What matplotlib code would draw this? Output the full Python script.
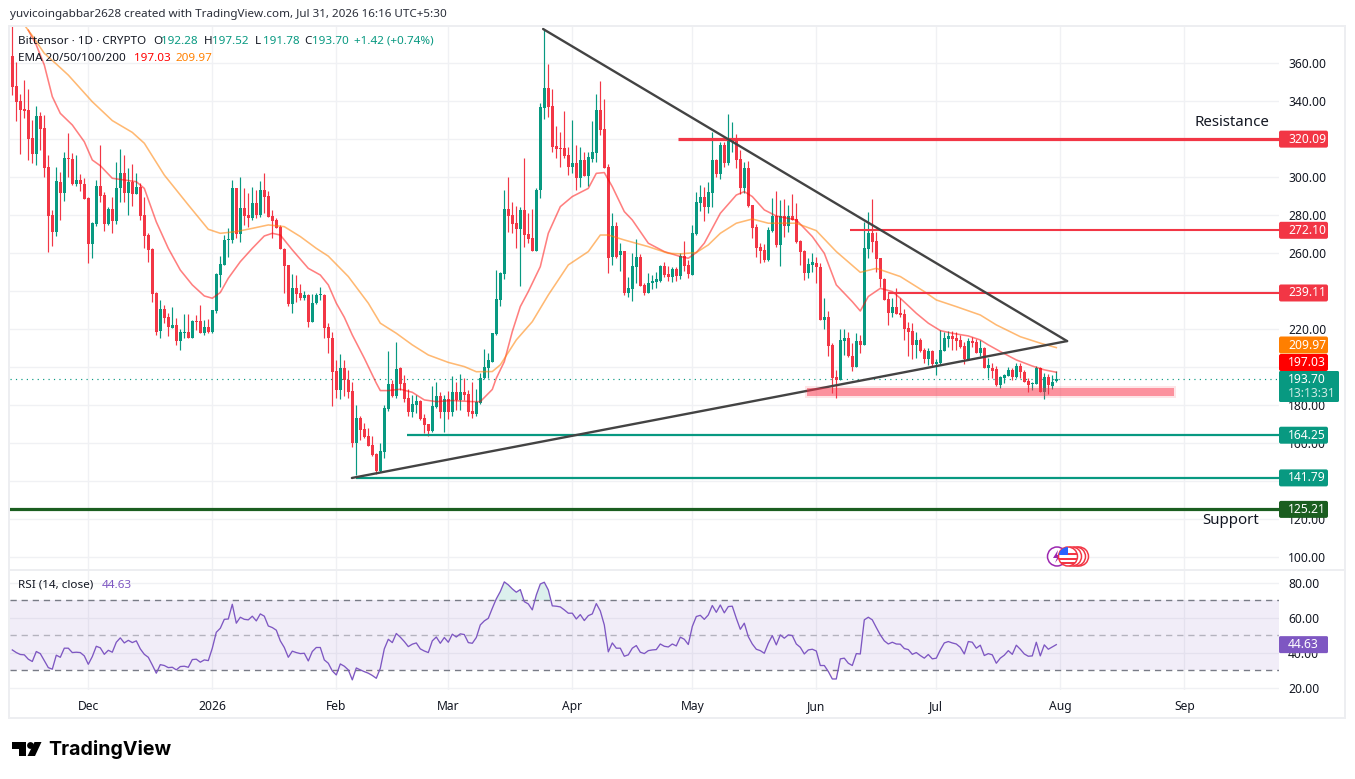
import pandas as pd
import numpy as np
import matplotlib
matplotlib.use("Agg")
import matplotlib.pyplot as plt
from matplotlib.patches import Rectangle, Circle, Polygon, FancyBboxPatch

plt.rcParams['font.family'] = ['Noto Sans', 'DejaVu Sans']

W, H = 1355, 779
RED = '#F23645'
GREEN = '#089981'
PURPLE = '#7E57C2'
GRID = '#F0F1F4'
TXT = '#131722'

start_date = pd.Timestamp('2025-11-12')

# candles, one row = 10 days
open_ = [
    363.1, 347.4, 339.5, 335.3, 334.8, 319.9, 311.7, 331.6, 325.1, 304.7,
    279.6, 270.9, 297.1, 291.4, 309.5, 309.2, 295.9, 298, 295.9, 288.7,
    264.4, 274.9, 294.9, 290.1, 274.9, 282.6, 276.3, 293.6, 301.9, 291.4,
    297.1, 290.6, 294.5, 279.6, 269.1, 261.6, 238.8, 218.7, 230.2, 226.2,
    220.4, 221.8, 213.6, 217.8, 218.2, 215.2, 224, 224, 217.9, 220.6,
    218, 229.4, 248.1, 253.4, 266.7, 266.5, 293.8, 269.7, 283.3, 279.6,
    277.9, 286.1, 279.6, 292.7, 289.6, 279.1, 277, 273.3, 261.8, 253.4,
    232.9, 241.3, 238.5, 236.1, 237.6, 223.6, 233.3, 237.5, 237.8, 220.7,
    214.9, 197.9, 187.8, 199.1, 193, 187.2, 159.8, 173.2, 167.1, 163.3,
    158.9, 154.2, 145.4, 155.4, 177.6, 190.9, 184.3, 199, 191.3, 183.5,
    176, 179.9, 182, 172.9, 169.7, 166.2, 179, 184.6, 175.9, 182.9,
    176.2, 186.4, 182.5, 186.9, 185.7, 176.9, 175.2, 180.8, 193.9, 199.1,
    202.6, 217.2, 235, 248.7, 282.8, 279.6, 275.3, 272.3, 282.3, 269.7,
    267.4, 260.9, 292.8, 336, 346.1, 336.9, 315.9, 314.8, 314.8, 311.1,
    305, 306.8, 299.2, 308.5, 300.1, 308.9, 312, 334.8, 324.8, 304.7,
    257.4, 273.9, 258.6, 260.6, 238.5, 240.9, 252.5, 257.4, 242.9, 238.5,
    243.8, 244.6, 245, 252.9, 248.7, 247.3, 251.3, 247.6, 258.3, 253.4,
    248.1, 269.7, 286.1, 289.1, 284, 291.4, 308.5, 301.2, 316.4, 307.1,
    318.1, 319.9, 308.9, 293.6, 304.1, 284.7, 273.5, 262.7, 261.3, 256,
    271.4, 279.3, 263.9, 279.3, 274, 279.3, 277.5, 266, 260.7, 249.4,
    253.4, 254.4, 252.2, 224.5, 226.1, 211.4, 194.4, 193, 213.7, 215.1,
    205.6, 200, 213.5, 211.4, 261.8, 270.4, 266, 256.9, 246, 235.4,
    228, 231.2, 228.2, 227.7, 220.1, 218.7, 211.4, 214, 208.8, 204,
    208.4, 201.2, 201.8, 208.4, 214.5, 216.3, 215.2, 214, 210.9, 204,
    213.6, 213.1, 207.4, 209.8, 199.5, 199.1, 198.6, 190.2, 194.2, 195.1,
    198.2, 194.6, 200.4, 197.4, 192.5, 191.1, 191.1, 199.1, 186.5, 194.4,
    189.9, 192.28,
]
close = [
    347, 339.1, 334.8, 334.4, 319.5, 311.7, 331.6, 324.9, 304.1, 279.1,
    270.9, 297.5, 291.4, 309.4, 309.2, 295.9, 298, 295.9, 288, 264.4,
    275.3, 294.9, 289.8, 274.9, 282.6, 276.3, 293.6, 301.5, 291.4, 297.1,
    290.6, 294.5, 279.1, 268.6, 261.3, 238.1, 218.3, 230.2, 225.7, 220.6,
    221.8, 213.6, 218.3, 218.3, 215.2, 224.1, 223.5, 217.9, 220.6, 218,
    229.8, 248.7, 253.9, 266.5, 267, 293.8, 269.7, 283.3, 279.1, 278.2,
    286.1, 279.6, 292.7, 289.3, 278.8, 276.3, 273, 261.6, 253, 232.9,
    241.3, 238.2, 236.1, 237.6, 223.6, 233.3, 237.6, 237.8, 220.1, 214.9,
    197.4, 187.8, 199.1, 193, 186.9, 159.8, 172.9, 166.8, 162.9, 158.5,
    153.6, 145.4, 155.7, 178.5, 190.9, 184.3, 198.8, 190.9, 183.2, 176.4,
    180.2, 182, 172.5, 169.4, 166.2, 179.4, 184.6, 175.9, 182.9, 176.2,
    186.4, 182.5, 186.9, 185.1, 176.4, 175.2, 181.6, 193.9, 199.7, 203.2,
    217.9, 235.4, 249.4, 282.8, 279.3, 274.9, 272.3, 282.3, 269.1, 267,
    260.9, 292.8, 336.2, 346.1, 336.2, 315.5, 314.3, 314.5, 310.6, 305,
    306.8, 299.2, 308.5, 300.1, 309.9, 312.5, 334.8, 324.3, 304.1, 256.9,
    273.9, 257.4, 260.6, 238.5, 241.3, 252.9, 257.4, 242.4, 238.5, 243.8,
    245.2, 246, 252.9, 248.1, 246.9, 251.3, 247.6, 258.3, 253, 248.5,
    270, 286.6, 289.1, 284, 291.7, 308.5, 301.2, 316.4, 307.1, 320.2,
    319.9, 308.5, 293.6, 304.1, 284.4, 272.6, 262.5, 260.9, 256, 271.8,
    279.3, 263.9, 279.3, 274, 279.3, 277, 265.6, 260.4, 249.4, 253.9,
    254.8, 252.2, 224.5, 226.1, 210.9, 194.2, 193, 214, 215.1, 205.3,
    200, 213.5, 211.4, 262.5, 270.4, 265.6, 256.5, 246, 235, 228,
    231.2, 227.7, 227.1, 219.8, 218.4, 211.4, 214, 208.2, 204, 208.2,
    201.2, 202.5, 208.8, 215.1, 216.1, 214.5, 213.6, 210.5, 204, 213.6,
    212.6, 207.4, 209.8, 199.5, 200.9, 197.7, 190.2, 194.4, 195.6, 198.2,
    194.6, 200.4, 197.4, 192.1, 190.4, 191.4, 199.1, 186.9, 194.4, 190.4,
    192.1, 193.70,
]
high = [
    380, 360.1, 343.2, 350.5, 345.6, 329.5, 336.8, 333.9, 332.1, 311.1,
    282.2, 305, 302.4, 312.9, 322.5, 312.4, 311.1, 301.2, 298.9, 289.3,
    276.1, 298, 316.4, 291.9, 283.7, 289.3, 307.6, 314.1, 311.1, 304.1,
    306.2, 301.5, 296.6, 289.3, 270.3, 262.1, 239.3, 235, 232.3, 227.9,
    231.5, 225.3, 219.5, 227.6, 227.6, 224.5, 227.1, 232.4, 224.5, 225,
    229.8, 249, 258.1, 269.1, 272.6, 298, 293.8, 299.8, 293.6, 291,
    294.1, 292.7, 297.5, 301.5, 292.4, 282.3, 277.9, 274.4, 262.1, 253.4,
    248.6, 248.1, 243.4, 239.7, 238, 238.2, 238.5, 241.7, 238.2, 222.8,
    218.4, 203.5, 206.7, 203.5, 198.3, 192.1, 179.9, 173.8, 170.2, 167.6,
    163.3, 154.5, 159.8, 179.9, 208.2, 193, 212.8, 199.6, 195.6, 188.1,
    185.1, 185.1, 182.2, 175.2, 169.9, 189.9, 192.1, 186.9, 185.1, 187.4,
    195.1, 192.1, 196, 194.2, 187.8, 192.1, 188.3, 196.5, 209.1, 207,
    217.9, 250.8, 249.9, 292.8, 299.8, 286.6, 284.4, 284, 309.4, 280.5,
    282.8, 293.6, 338.3, 377.1, 358.9, 345.8, 326.4, 323.4, 334.4, 315.5,
    329.5, 316.4, 315.5, 312.9, 312.9, 329.2, 343.2, 350, 340.5, 306.4,
    280.5, 275.8, 264.8, 260.6, 247.3, 259.5, 266.9, 259.2, 243.8, 249,
    248.1, 249.5, 253.4, 255.1, 252.9, 252.2, 252.5, 259.5, 266, 256,
    274.4, 291.9, 295.4, 294.2, 297.1, 323, 308.9, 318.1, 318.1, 332.7,
    328.3, 322.2, 313.8, 307.6, 308, 284.9, 274.7, 264.8, 264.4, 273.5,
    288.4, 292.2, 287.5, 287.9, 284.9, 290.7, 285.8, 266.5, 261.3, 256.9,
    259.5, 257.8, 254.3, 235.9, 229.2, 212.3, 198.3, 219.6, 219.6, 218.4,
    212.3, 217.5, 216.6, 276.1, 281.4, 288, 270.9, 256.9, 246.4, 238.5,
    235.9, 241.1, 235.9, 230.3, 223.3, 222.8, 218.4, 214.9, 209.6, 209.6,
    208.8, 203.8, 219.2, 218.4, 218.9, 218.7, 218.4, 216.6, 213.1, 214.9,
    215.8, 214.5, 214, 210.5, 204.4, 201.8, 200.4, 194.8, 196.2, 199.6,
    199.1, 201.8, 201.8, 198.3, 193.9, 192.1, 200.4, 199.6, 196.5, 196.2,
    195.6, 197.52,
]
low = [
    342.6, 329.2, 311.7, 330.4, 308.5, 306.8, 305.9, 313.8, 299.4, 260.4,
    263.4, 268.6, 277, 287.1, 299.8, 295.4, 294.9, 292.4, 288, 254.6,
    256.9, 273.9, 286.6, 271.4, 274.4, 270, 274.9, 286.6, 286.6, 279.6,
    284.5, 290.6, 277, 262.1, 255.1, 234.1, 216.6, 214.8, 222.7, 216.2,
    220.4, 211.3, 208.7, 214.8, 215.2, 215.2, 219.3, 217.9, 216.6, 217.5,
    217.9, 228.4, 242, 253.4, 257.8, 265.1, 267.4, 265.6, 274.4, 273.5,
    277, 277.9, 278.4, 280.5, 278.4, 267.4, 272.6, 261.6, 238.5, 231.9,
    228.4, 234.1, 235, 235, 220.7, 223.6, 232.9, 235, 214.9, 207.4,
    179.4, 183.4, 182.9, 184.3, 183.4, 157.7, 143.1, 161.2, 162.4, 158.4,
    152.8, 143.7, 144.9, 152.2, 176.9, 183.9, 183.6, 187.8, 181.6, 173.8,
    173.4, 175.5, 172, 165, 163.3, 165.4, 178.1, 172.9, 165.9, 172.4,
    173.8, 177.3, 177.3, 182.2, 173.8, 172.9, 173.8, 180.4, 193.4, 193.9,
    202.6, 216.6, 231.9, 245.9, 270.9, 270, 262.1, 242.4, 263, 264.8,
    260.9, 260.9, 288.7, 330, 331.3, 312.5, 309.4, 305, 309.4, 300.6,
    301.5, 292.8, 294.5, 300.1, 294.9, 307.6, 307.6, 321.6, 304.1, 249.4,
    253.4, 256.9, 250.4, 237.6, 236.8, 234.7, 243.8, 242.4, 237.6, 238.5,
    240.6, 241.1, 244.6, 247.3, 245.2, 244.6, 245.2, 245.9, 250.4, 246.7,
    248.1, 269.1, 281.7, 276.5, 280.5, 283.7, 299.8, 298.5, 304.7, 305.9,
    312.9, 304.1, 290.7, 291, 284, 267.7, 257.8, 254.3, 255.1, 255.7,
    270.9, 263, 253, 267.9, 270.9, 277, 264.8, 253.4, 245.5, 246.4,
    249.5, 244.1, 224.5, 219.8, 205.8, 186, 183.7, 192.7, 206.1, 204.8,
    197.9, 200, 207, 211.4, 256.9, 260.4, 249.9, 242, 235, 221.9,
    226.3, 227.7, 226.3, 214, 205.6, 204, 204.7, 207.9, 201.8, 200.9,
    199.6, 195.6, 201.4, 208.4, 210.5, 208.8, 208.8, 209.6, 201.4, 203.2,
    210.5, 207.4, 205.3, 199.1, 193.9, 193.9, 189.9, 188.6, 191.3, 194.8,
    193, 193.9, 193.9, 192.1, 186.9, 187.8, 190.9, 186.5, 183.2, 185.7,
    188.1, 191.78,
]

# EMA lines read at the bends only
ema20_days = [4, 6, 8, 10, 12, 15, 18, 20, 22, 25, 28, 31, 33, 36, 39, 42, 45, 48, 50, 52,
              54, 57, 60, 63, 65, 67, 70, 74, 77, 79, 81, 83, 85, 88, 91, 92, 94, 97, 100, 103,
              106, 110, 115, 117, 120, 121, 123, 125, 127, 129, 132, 134, 137, 140, 144, 146, 148, 150, 153, 155,
              159, 163, 167, 169, 171, 173, 177, 181, 183, 185, 188, 191, 196, 200, 203, 206, 210, 212, 214, 217,
              220, 222, 226, 229, 232, 235, 239, 242, 244, 247, 251, 255, 258, 261]
ema20 = [376.7, 368.9, 358.4, 341.8, 333, 326.9, 318.1, 308.5, 305.5, 298.9, 298, 297.1, 293.6, 276, 262.1, 250.7, 242.9, 237.1, 235.9, 238.9,
         246.4, 255.1, 262.1, 268.6, 270, 269.1, 261.3, 251.6, 248.1, 242.9, 233.3, 225.9, 216.6, 204.4, 191.3, 187.4, 187.4, 188.1, 186.5, 182.5,
         181.6, 182.2, 181.6, 181.6, 188, 193.9, 202.6, 218.4, 231.5, 239.4, 252.5, 270, 284, 289.3, 293.6, 301.5, 301.9, 294.5, 281.4, 277,
         264.8, 260.4, 257.8, 256.9, 259.9, 264.8, 280.5, 290.1, 291.9, 289.3, 282.3, 279.1, 277, 268.3, 259.5, 242.9, 234.1, 229.2, 236.8, 241.1,
         239.4, 235.9, 228, 222.8, 218.9, 217.5, 216.1, 214, 211.4, 207.9, 203.5, 200.3, 198.3, 197.03]
ema50_days = [3, 5, 8, 11, 14, 17, 20, 25, 30, 33, 38, 44, 49, 52, 56, 60, 64, 68, 72, 76,
              79, 84, 89, 92, 96, 100, 104, 109, 113, 116, 120, 122, 126, 130, 134, 139, 144, 147, 149, 153,
              159, 164, 167, 171, 174, 177, 181, 185, 189, 196, 201, 206, 212, 216, 222, 228, 231, 236, 242, 246,
              252, 257, 261]
ema50 = [379.4, 373.8, 364.5, 358.9, 353.1, 346.1, 339.1, 329.2, 323, 317.3, 300.6, 284.9, 272.1, 270, 270.9, 272.6, 274.4, 273.5, 268.3, 262.1,
         258, 247.3, 233.3, 222.8, 217.5, 211.4, 206.1, 202.2, 200, 197.3, 197.4, 200.9, 214, 223.6, 237.6, 253.4, 260.4, 269.1, 269.1, 266.5,
         263, 259.5, 259.2, 259.9, 263.9, 270, 275.3, 277.5, 275.3, 275.3, 271.4, 260.4, 249.5, 251.6, 247.3, 239.4, 235, 231.5, 227.1, 221.9,
         215.7, 212.3, 209.97]

rsi = [
    41.6, 40.1, 39, 38.8, 36.3, 35, 40.7, 39.5, 35.5, 31.5,
    30.6, 38.6, 37.4, 42.6, 42.6, 40.1, 40.3, 40.1, 38.2, 33.4,
    37.8, 43.7, 42.8, 39.1, 41.4, 40.3, 46, 48.5, 45.6, 47.1,
    45.8, 46.8, 42.2, 39.1, 37.4, 33, 28.3, 33.2, 32.7, 31.5,
    31.7, 30.2, 32.1, 32.3, 31.7, 36.1, 36.3, 34.6, 35.9, 35.5,
    42.6, 51.7, 54, 59.1, 59.3, 67.7, 56.9, 60.3, 59.1, 58.8,
    60.9, 58.2, 62.2, 60.9, 55.3, 54.4, 52.9, 46.8, 43, 37.4,
    40.9, 40.1, 39.5, 39.7, 35.3, 40.7, 43, 43, 35.9, 34,
    29.6, 27.3, 33.6, 32.3, 30.2, 24.5, 31.3, 30.2, 29.2, 28.3,
    27, 25.4, 31.1, 42.2, 47.7, 45.8, 51, 48.9, 46.4, 43.5,
    44.9, 45.6, 42.2, 41, 40.1, 46.8, 49, 45.4, 48.7, 46,
    50.6, 49, 50.8, 50.4, 45.8, 45.4, 48.7, 55.9, 58.2, 59.7,
    65.4, 70.8, 75, 80.5, 78.8, 76.5, 74.6, 76.1, 69.2, 67.9,
    64.5, 73, 79.3, 80.3, 75.9, 66.8, 66.6, 66.2, 64.5, 62.6,
    62.6, 59.3, 61.8, 58.4, 61.2, 62.2, 68.1, 63.9, 55.9, 40.5,
    45.6, 42.6, 42.6, 38, 38.8, 42.6, 44.1, 40.3, 39.5, 41.2,
    41.6, 41.8, 45, 43.7, 43.3, 45, 43.9, 48.9, 47.7, 44.7,
    55, 60.7, 61.4, 59.1, 61.6, 67, 63.1, 67.3, 62.8, 66.4,
    66.6, 59.7, 53.4, 56.9, 49.2, 45, 42, 41.2, 39.7, 45.4,
    49.8, 44.5, 50.2, 48.3, 50.2, 49.8, 45, 43.1, 39.3, 41.6,
    42, 41, 32.7, 32.7, 29.3, 25, 25, 36.5, 36.9, 34,
    32.7, 39.5, 39.3, 58.8, 60.3, 58.8, 54.4, 50.2, 46.8, 45,
    46, 45, 44.9, 42.4, 41.8, 39.1, 40.1, 38.4, 36.9, 39,
    36.5, 36.9, 41.6, 45.6, 46.4, 45.6, 45, 43.1, 39.3, 46.4,
    46, 42.6, 44.3, 38.4, 39.5, 38.8, 34, 36.9, 38.6, 41.2,
    39.1, 44.3, 42, 39.3, 38, 38.2, 46, 38.2, 44.5, 42,
    43.3, 44.63,
]

price_ticks = list(range(100, 380, 20))
rsi_ticks = [20, 40, 60, 80]
month_dates = ['2025-12-01', '2026-01-01', '2026-02-01', '2026-03-01', '2026-04-01',
               '2026-05-01', '2026-06-01', '2026-07-01', '2026-08-01', '2026-09-01']
month_labels = ['Dec', '2026', 'Feb', 'Mar', 'Apr', 'May', 'Jun', 'Jul', 'Aug', 'Sep']

last_close = 193.70
red_levels = [320.09, 272.10, 239.11]
red_level_from = [166.4, 209.4, 219]
green_levels = [164.25, 141.79]
green_level_from = [98.7, 86]
base_level = 125.21
falling_line = ([132.7, 263.7], [377.3, 213.4])
rising_line = ([84.9, 263.7], [141.5, 213.4])
support_zone = (198.7, 290.4, 184.6, 188.8)


def recal(values):
    # the candle values were read against a scale a touch too steep
    return 100 + (np.asarray(values, dtype=float) - 100) * 1.0021 + 0.16


def axes_px(left, top, right, bottom, **kw):
    return fig.add_axes([left / W, 1 - bottom / H, (right - left) / W, (bottom - top) / H], **kw)


def x_to_bar(px):
    return (px - 12.3) / 4


fig = plt.figure(figsize=(W / 100, H / 100), dpi=100, facecolor='white')

ax = axes_px(10, 27, 1279, 569)
ax2 = axes_px(10, 570, 1279, 690)

days = np.arange(len(close))
month_pos = [(pd.Timestamp(d) - start_date).days for d in month_dates]

for a in (ax, ax2):
    a.set_xlim(x_to_bar(10), x_to_bar(1279))
    a.set_xticks(month_pos)
    a.grid(True, color=GRID, lw=1)
    a.set_axisbelow(True)
    for s in a.spines.values():
        s.set_visible(False)
    a.yaxis.tick_right()
    a.tick_params(length=0, labelsize=8.7, labelcolor=TXT, pad=6.5)

# price pane
ax.set_ylim(93.84, 379.1)
ax.set_yticks(price_ticks)
ax.set_yticklabels([f'{v:.2f}' for v in price_ticks])
ax.tick_params(labelbottom=False)

o = recal(open_)
c = recal(close)
colors = np.where(c >= o, GREEN, RED)
ax.vlines(days, recal(low), recal(high), colors=colors, lw=0.85, zorder=2)
ax.bar(days, np.maximum(np.abs(c - o), 0.4), bottom=np.minimum(o, c), width=0.8,
       color=colors, linewidth=0, zorder=2.1)

ax.axhline(last_close, color=GREEN, lw=0.85, ls=(0, (1, 3.6)), zorder=1.5)
ax.plot(ema20_days, recal(ema20), color='#FF0000', alpha=0.5, lw=1.15, zorder=3)
ax.plot(ema50_days, recal(ema50), color='#FF8000', alpha=0.55, lw=1.15, zorder=3)

# hand drawn levels
x_end = x_to_bar(1279)
ax.hlines(red_levels[0], red_level_from[0], x_end, color=RED, lw=2.3, zorder=4)
ax.hlines(red_levels[1:], red_level_from[1:], x_end, color=RED, lw=1.5, zorder=4)
ax.hlines(green_levels, green_level_from, x_end, color=GREEN, lw=1.6, zorder=4)
ax.axhline(base_level, color='#1B5E20', lw=2.3, zorder=4)
ax.plot(falling_line[0], recal(falling_line[1]), color='#434343', lw=1.7, zorder=4, solid_capstyle='round')
ax.plot(rising_line[0], recal(rising_line[1]), color='#434343', lw=1.7, zorder=4, solid_capstyle='round')
zx0, zx1, zy0, zy1 = support_zone
zy0, zy1 = recal(zy0), recal(zy1)
ax.add_patch(Rectangle((zx0 - 0.5, zy0 - 1), zx1 - zx0 + 1, zy1 - zy0 + 2, facecolor=RED, alpha=0.12,
                       edgecolor='none', zorder=4))
ax.add_patch(Rectangle((zx0, zy0), zx1 - zx0, zy1 - zy0, facecolor='#FB3048', alpha=0.46,
                       edgecolor='none', zorder=4))

# rsi pane
ax2.set_ylim(18.7, 87.3)
ax2.set_yticks(rsi_ticks)
ax2.set_yticklabels([f'{v:.2f}' for v in rsi_ticks])
ax2.set_xticklabels(month_labels)
ax2.tick_params(axis='x', pad=7)
ax2.get_xticklabels()[1].set_fontweight('bold')
ax2.axhspan(30, 70, color=PURPLE, alpha=0.1, lw=0, zorder=1)
ax2.axhline(70, color='#787B86', lw=1, ls=(0, (4.5, 3.5)), zorder=1.5)
ax2.axhline(50, color='#787B86', lw=1, alpha=0.5, ls=(0, (4.5, 3.5)), zorder=1.5)
ax2.axhline(30, color='#787B86', lw=1, ls=(0, (4.5, 3.5)), zorder=1.5)
r = np.array(rsi)
ax2.fill_between(days, 70, r, where=r > 70, interpolate=True, color=GREEN, alpha=0.14, lw=0, zorder=1.6)
ax2.fill_between(days, 30, r, where=r < 30, interpolate=True, color=RED, alpha=0.05, lw=0, zorder=1.6)
ax2.plot(days, r, color=PURPLE, lw=0.95, zorder=3)

# overlay in picture pixels: frame, header, tags, logo
ov = fig.add_axes([0, 0, 1, 1], zorder=10)
ov.set_xlim(0, W)
ov.set_ylim(H, 0)
ov.axis('off')
ov.patch.set_alpha(0)

ov.add_patch(Rectangle((9, 26), 1336, 692, fill=False, edgecolor='#EDEEF1', lw=1.4))
ov.plot([9, 1345], [569.5, 569.5], color='#EDEEF1', lw=1.4)


def t(x, y, s, color=TXT, size=8.4, **kw):
    return ov.text(x, y, s, color=color, fontsize=size, va='center', ha=kw.pop('ha', 'left'), **kw)


t(10, 14, 'yuvicoingabbar2628 created with TradingView.com, Jul 31, 2026 16:16 UTC+5:30', color='#2A2E39')
t(18, 41, 'Bittensor · 1D · CRYPTO')
for x, lab, val in [(153, 'O', '192.28'), (204, 'H', '197.52'), (255, 'L', '191.78'), (304, 'C', '193.70')]:
    t(x, 41, lab)
    t(x + 8, 41, val, color=GREEN)
t(354, 41, '+1.42 (+0.74%)', color=GREEN)
t(18, 58, 'EMA 20/50/100/200')
t(134, 58, '197.03', color='#FF0000')
t(176, 58, '209.97', color='#FF8000')
t(18, 585, 'RSI (14, close)')
t(102, 585, '44.63', color=PURPLE)
t(1194, 122.5, 'Resistance', size=10.8)
t(1202, 520.5, 'Support', size=10.8)


def tag(y, s, color, width=49, height=17, txtcolor='white'):
    ov.add_patch(FancyBboxPatch((1280, y - height / 2 + 1), width - 2, height - 2,
                                boxstyle='round,pad=1,rounding_size=2', fc=color, ec='none'))
    t(1288, y, s, color=txtcolor, size=8.7, fontweight='medium')


def price_y(v):
    return H - ax.transData.transform((0, v))[1]


tag(price_y(320.09), '320.09', RED)
tag(price_y(272.10), '272.10', RED)
tag(price_y(239.11), '239.11', RED)
tag(345, '209.97', '#FF7F00')
tag(362.5, '197.03', '#FF0000')
tag(price_y(164.25), '164.25', GREEN)
tag(price_y(141.79), '141.79', GREEN)
tag(price_y(125.21), '125.21', '#1B5E20')
ov.add_patch(FancyBboxPatch((1280, 372), 58, 29, boxstyle='round,pad=1,rounding_size=1.5', fc=GREEN, ec='none'))
t(1288, 379.5, '193.70', color='white', size=8.7, fontweight='medium')
t(1288, 393.5, '13:13:31', color='#CDEBE5', size=8.7)
ax_y = H - ax2.transData.transform((0, 44.63))[1]
ov.add_patch(FancyBboxPatch((1280, ax_y - 7.5), 47, 15, boxstyle='round,pad=1,rounding_size=1.5', fc=PURPLE, ec='none'))
t(1288, ax_y, '44.63', color='white', size=8.7, fontweight='medium')

# event icons
for cx in (1079, 1076, 1072):
    ov.add_patch(Circle((cx, 556.5), 9.5, fc='white', ec=RED, lw=1.1))
ov.add_patch(Circle((1057, 556.5), 9.5, fc='white', ec='#9C27B0', lw=1.1, zorder=2))
ov.add_patch(Polygon([[1058, 550], [1053, 558], [1057, 558], [1055, 563], [1061, 555], [1057, 555]],
                     fc='#9C27B0', ec='none', zorder=2))
flag = Circle((1068, 556.5), 9.5, fc='white', ec=RED, lw=1.1, zorder=3)
ov.add_patch(flag)
for y0 in (553, 557.5, 562):
    ov.add_patch(Rectangle((1058.5, y0), 19, 2.2, fc=RED, ec='none', zorder=3.1, clip_path=flag))
ov.add_patch(Rectangle((1059, 547), 8.5, 7.5, fc='#2962FF', ec='none', zorder=3.2, clip_path=flag))

# logo
ov.add_patch(Polygon([[12, 742], [26, 742], [26, 756], [19, 756], [19, 749], [12, 749]], fc='black', ec='none'))
ov.add_patch(Circle((30.5, 745.5), 3.4, fc='black', ec='none'))
ov.add_patch(Polygon([[34.5, 742], [41.5, 742], [35, 756], [27.5, 756]], fc='black', ec='none'))
ov.text(48.5, 749.5, 'TradingView', fontsize=14.1, fontweight='bold', family=['Inter', 'DejaVu Sans'],
        color='black', va='center', ha='left')

fig.savefig('out.png', dpi=100)
